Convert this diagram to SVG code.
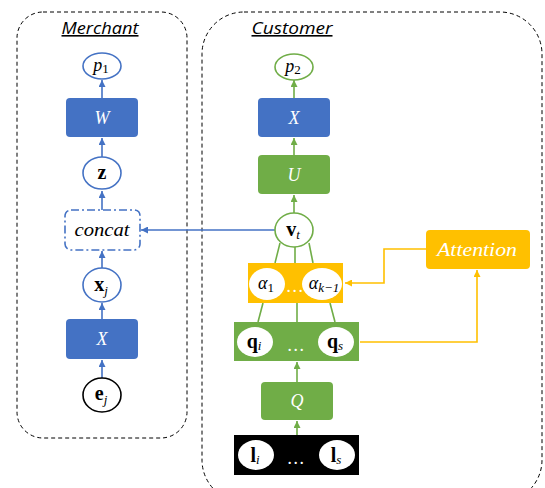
<svg xmlns="http://www.w3.org/2000/svg" width="545" height="488" viewBox="0 0 545 488">
<defs>
<style>
.frame{fill:none;stroke:#000;stroke-width:1;stroke-dasharray:4 3}
.title{font-family:"Open Sans","Liberation Sans",sans-serif;font-style:italic;font-size:16px;fill:#000;text-decoration:underline}
.bl{stroke:#4472C4;stroke-width:1.6;fill:none}
.gr{stroke:#70AD47;stroke-width:1.6;fill:none}
.ye{stroke:#FFC000;stroke-width:1.6;fill:none}
.bfill{fill:#4472C4}
.gfill{fill:#70AD47}
.yfill{fill:#FFC000}
.m{font-family:"Liberation Serif","DejaVu Serif",serif;font-style:italic;font-size:18px;text-anchor:middle}
.v{font-family:"Liberation Serif","DejaVu Serif",serif;font-weight:bold;font-size:20px;text-anchor:middle}
.sub{font-size:13px;font-weight:normal}
.w{fill:#fff}
.k{fill:#000}
</style>
<marker id="ab" viewBox="0 0 10 10" refX="10" refY="5" markerUnits="userSpaceOnUse" markerWidth="7" markerHeight="7" orient="auto"><path d="M0,0 L10,5 L0,10 z" fill="#4472C4"/></marker>
<marker id="ag" viewBox="0 0 10 10" refX="10" refY="5" markerUnits="userSpaceOnUse" markerWidth="7" markerHeight="7" orient="auto"><path d="M0,0 L10,5 L0,10 z" fill="#70AD47"/></marker>
<marker id="ay" viewBox="0 0 10 10" refX="10" refY="5" markerUnits="userSpaceOnUse" markerWidth="7" markerHeight="7" orient="auto"><path d="M0,0 L10,5 L0,10 z" fill="#FFC000"/></marker>
</defs>
<rect width="545" height="488" fill="#fff"/>

<g id="merchant-frame">
<rect class="frame" x="17" y="12" width="170" height="426" rx="26"/>
<text class="title" x="100" y="34" text-anchor="middle" textLength="77" lengthAdjust="spacingAndGlyphs">Merchant</text>
</g>
<g id="customer-frame">
<rect class="frame" x="202" y="12" width="340" height="490" rx="42"/>
<text class="title" x="292" y="34" text-anchor="middle" textLength="81" lengthAdjust="spacingAndGlyphs">Customer</text>
</g>

<g id="connectors">
<line class="bl" x1="102" y1="98" x2="102" y2="80" marker-end="url(#ab)"/>
<line class="bl" x1="102" y1="157" x2="102" y2="138" marker-end="url(#ab)"/>
<line class="bl" x1="102" y1="210" x2="102" y2="191" marker-end="url(#ab)"/>
<line class="bl" x1="102" y1="268" x2="102" y2="251" marker-end="url(#ab)"/>
<line class="bl" x1="102" y1="319" x2="102" y2="303" marker-end="url(#ab)"/>
<line class="bl" x1="102" y1="378" x2="102" y2="360" marker-end="url(#ab)"/>
<line class="bl" x1="275" y1="230" x2="141" y2="230" marker-end="url(#ab)"/>
<line class="gr" x1="294" y1="98" x2="294" y2="80" marker-end="url(#ag)"/>
<line class="gr" x1="294" y1="155" x2="294" y2="138" marker-end="url(#ag)"/>
<line class="gr" x1="294" y1="213" x2="294" y2="195" marker-end="url(#ag)"/>
<line class="gr" x1="297" y1="382" x2="297" y2="362" marker-end="url(#ag)"/>
<line class="gr" x1="297" y1="435" x2="297" y2="421" marker-end="url(#ag)"/>
<line class="gr" x1="280" y1="243" x2="275" y2="263"/>
<line class="gr" x1="295" y1="247" x2="295" y2="263"/>
<line class="gr" x1="309" y1="243" x2="313" y2="263"/>
<line class="gr" x1="263" y1="303" x2="258" y2="322"/>
<line class="gr" x1="297" y1="303" x2="297" y2="322"/>
<line class="gr" x1="330" y1="303" x2="335" y2="322"/>
<polyline class="ye" points="426,249 384,249 384,283 345,283" marker-end="url(#ay)"/>
<polyline class="ye" points="360,342 477,342 477,270" marker-end="url(#ay)"/>
</g>

<g id="p1">
<ellipse class="bl" cx="102" cy="66" rx="19" ry="13" fill="#fff"/>
<text class="m k" x="101" y="71" font-size="20">p<tspan class="sub" font-style="normal" dy="2">1</tspan></text>
</g>
<g id="W">
<rect class="bfill" x="66" y="98" width="72" height="39" rx="4"/>
<text class="m w" x="102" y="124">W</text>
</g>
<g id="z">
<ellipse class="bl" cx="102" cy="173" rx="19" ry="16" fill="#fff"/>
<text class="v k" x="102" y="179">z</text>
</g>
<g id="concat">
<rect class="bl" x="65" y="210" width="75" height="40" rx="6" stroke-dasharray="8 3 2 3"/>
<text class="m k" x="102" y="236" font-size="19" textLength="55" lengthAdjust="spacingAndGlyphs">concat</text>
</g>
<g id="xj">
<ellipse class="bl" cx="102" cy="285" rx="19" ry="17" fill="#fff"/>
<text class="v k" x="101" y="291">x<tspan class="sub" font-style="italic" dy="4">j</tspan></text>
</g>
<g id="X-merchant">
<rect class="bfill" x="66" y="319" width="72" height="40" rx="4"/>
<text class="m w" x="102" y="345">X</text>
</g>
<g id="ej">
<ellipse cx="102" cy="395" rx="19" ry="17" fill="#fff" stroke="#000" stroke-width="1.6"/>
<text class="v k" x="101" y="400">e<tspan class="sub" font-style="italic" dy="4">j</tspan></text>
</g>

<g id="p2">
<ellipse class="gr" cx="294" cy="67" rx="19" ry="13" fill="#fff"/>
<text class="m k" x="293" y="72" font-size="20">p<tspan class="sub" font-style="normal" dy="2">2</tspan></text>
</g>
<g id="X-customer">
<rect class="bfill" x="258" y="98" width="72" height="39" rx="4"/>
<text class="m w" x="294" y="124">X</text>
</g>
<g id="U">
<rect class="gfill" x="258" y="155" width="72" height="39" rx="4"/>
<text class="m w" x="294" y="181">U</text>
</g>
<g id="vt">
<ellipse class="gr" cx="294" cy="230" rx="19" ry="17" fill="#fff"/>
<text class="v k" x="293" y="236">v<tspan class="sub" font-style="italic" dy="3">t</tspan></text>
</g>
<g id="alpha">
<rect class="yfill" x="248" y="263" width="95" height="40"/>
<ellipse cx="267" cy="284" rx="18" ry="16" fill="#fff"/>
<ellipse cx="322" cy="284" rx="20" ry="16" fill="#fff"/>
<text class="m k" x="266" y="289" font-size="18">α<tspan class="sub" font-style="normal" font-weight="bold" dy="3">1</tspan></text>
<text class="m w" x="295" y="292" font-size="15" font-style="normal">…</text>
<text class="m k" x="324" y="289" font-size="18">α<tspan class="sub" dy="3">k−1</tspan></text>
</g>
<g id="Attention">
<rect class="yfill" x="426" y="230" width="104" height="39" rx="4"/>
<text class="m w" x="477" y="256" textLength="80" lengthAdjust="spacingAndGlyphs">Attention</text>
</g>
<g id="q">
<rect class="gfill" x="234" y="322" width="125" height="39"/>
<ellipse cx="255" cy="342" rx="18" ry="15" fill="#fff"/>
<ellipse cx="336" cy="342" rx="18" ry="15" fill="#fff"/>
<text class="v k" x="254" y="348">q<tspan class="sub" font-style="italic" dy="2">i</tspan></text>
<text class="m w" x="296" y="351" font-size="15" font-style="normal">…</text>
<text class="v k" x="335" y="348">q<tspan class="sub" font-style="italic" dy="2">s</tspan></text>
</g>
<g id="Q">
<rect class="gfill" x="261" y="382" width="72" height="38" rx="4"/>
<text class="m w" x="297" y="407">Q</text>
</g>
<g id="l">
<rect x="234" y="435" width="125" height="40" fill="#000"/>
<ellipse cx="256" cy="455" rx="18" ry="15" fill="#fff"/>
<ellipse cx="337" cy="455" rx="18" ry="15" fill="#fff"/>
<text class="v k" x="255" y="462">l<tspan class="sub" font-style="italic" dy="2">i</tspan></text>
<text class="m w" x="296" y="464" font-size="15" font-style="normal">…</text>
<text class="v k" x="336" y="462">l<tspan class="sub" font-style="italic" dy="2">s</tspan></text>
</g>
</svg>
